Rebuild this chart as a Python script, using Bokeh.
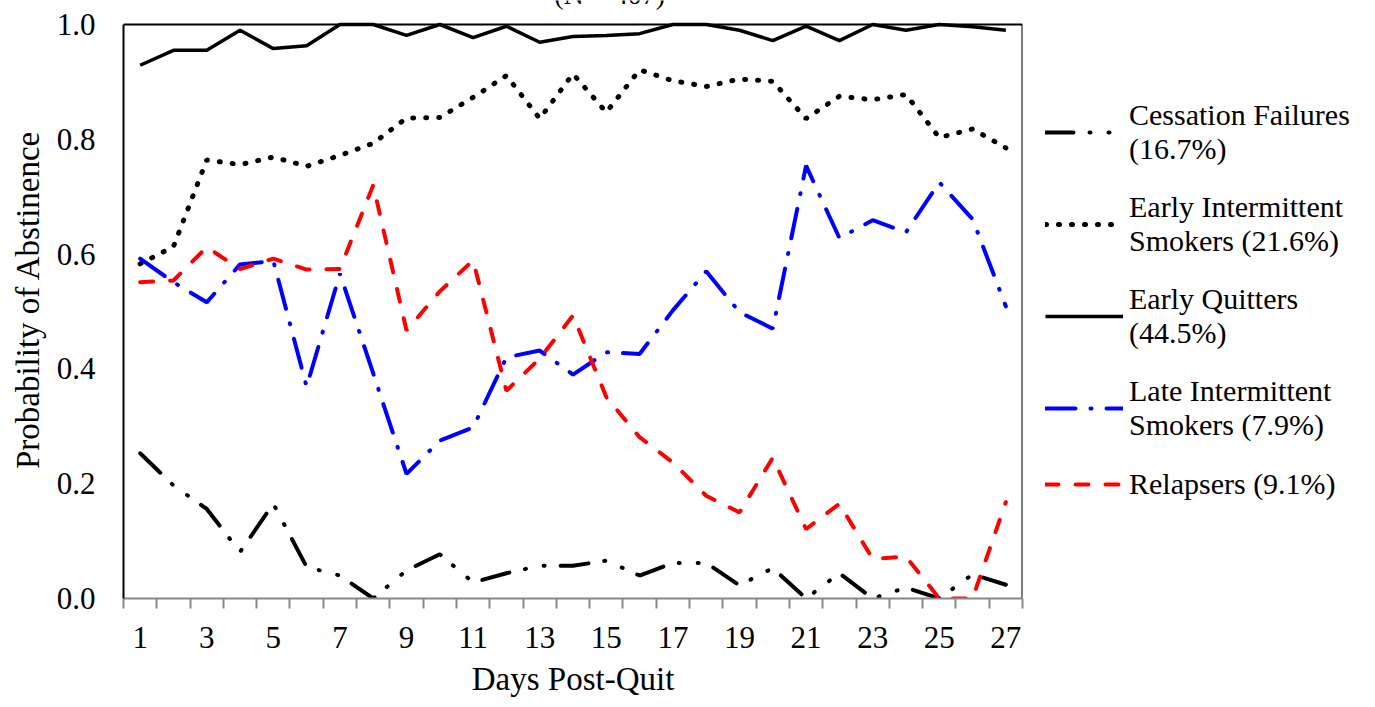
from bokeh.plotting import figure
from bokeh.layouts import row
from bokeh.models import Legend, LegendItem, Label, FixedTicker, Range1d, NumeralTickFormatter
from bokeh.embed import file_html
from bokeh.resources import INLINE

days = list(range(1, 28))
cessation_failures = [0.253, 0.197, 0.156, 0.081, 0.165, 0.055, 0.040, 0.0, 0.049, 0.077,
                      0.028, 0.044, 0.057, 0.057, 0.066, 0.040, 0.062, 0.062, 0.023, 0.053,
                      0.0, 0.044, 0.0, 0.019, 0.0, 0.042, 0.024]
early_intermittent = [0.583, 0.613, 0.764, 0.756, 0.769, 0.753, 0.772, 0.793, 0.837, 0.838,
                      0.873, 0.911, 0.836, 0.914, 0.847, 0.921, 0.902, 0.892, 0.905, 0.901,
                      0.836, 0.875, 0.869, 0.878, 0.803, 0.818, 0.785]
early_quitters = [0.929, 0.955, 0.955, 0.990, 0.958, 0.963, 1.0, 1.0, 0.981, 1.0,
                  0.977, 0.997, 0.969, 0.979, 0.981, 0.984, 1.0, 1.0, 0.990, 0.972,
                  0.997, 0.972, 1.0, 0.990, 1.0, 0.996, 0.990]
late_intermittent = [0.592, 0.551, 0.516, 0.582, 0.588, 0.369, 0.566, 0.392, 0.217, 0.275,
                     0.298, 0.420, 0.432, 0.390, 0.429, 0.426, 0.502, 0.570, 0.499, 0.470,
                     0.754, 0.628, 0.659, 0.638, 0.725, 0.661, 0.509]
relapsers = [0.551, 0.554, 0.612, 0.574, 0.592, 0.573, 0.574, 0.720, 0.467, 0.535,
             0.589, 0.362, 0.418, 0.493, 0.351, 0.281, 0.237, 0.179, 0.150, 0.245,
             0.121, 0.165, 0.069, 0.073, 0.0, 0.0, 0.168]

labels = ["Cessation Failures\n(16.7%)", "Early Intermittent\nSmokers (21.6%)",
          "Early Quitters\n(44.5%)", "Late Intermittent\nSmokers (7.9%)", "Relapsers (9.1%)"]
y_ticks = [0.0, 0.2, 0.4, 0.6, 0.8, 1.0]
title_text = "(N = 407)"

FONT = "Liberation Serif"

X0, X1 = days[0] - 0.5, days[-1] + 0.5
Y0, Y1 = y_ticks[0], y_ticks[-1]
TOP_PAD = 24 / 574  # space above the plot box (in data units) for the title

styles = [
    dict(line_color="black", line_width=4, line_dash="28 16 1 18 1 16", line_cap="round"),
    dict(line_color="black", line_width=5, line_dash="1 12", line_cap="round"),
    dict(line_color="black", line_width=3.5),
    dict(line_color="#0000FF", line_width=4, line_dash="30 15 1 15", line_cap="round"),
    dict(line_color="#FF0000", line_width=4, line_dash="13 17", line_cap="round"),
]
series = [cessation_failures, early_intermittent, early_quitters, late_intermittent, relapsers]

p = figure(width=1024, height=707, output_backend="svg", toolbar_location=None,
           x_range=Range1d(X0, X1), y_range=Range1d(Y0, Y1 + TOP_PAD),
           min_border_left=123, min_border_right=2, min_border_top=0, min_border_bottom=109)
p.grid.visible = False
p.outline_line_color = None
p.background_fill_color = "white"
p.border_fill_color = "white"

# x axis
xa = p.xaxis[0]
xa.ticker = FixedTicker(ticks=days[::2], minor_ticks=[d - 0.5 for d in days] + [X1])
xa.major_tick_line_color = None
xa.major_tick_out = 0
xa.major_tick_in = 0
xa.minor_tick_line_color = "#888888"
xa.minor_tick_line_width = 2
xa.minor_tick_out = 10
xa.minor_tick_in = 0
xa.axis_line_color = "#888888"
xa.axis_line_width = 2
xa.major_label_text_font = FONT
xa.major_label_text_font_size = "31px"
xa.major_label_text_color = "black"
xa.major_label_standoff = 18
xa.axis_label = "Days Post-Quit"
xa.axis_label_text_font = FONT
xa.axis_label_text_font_size = "33px"
xa.axis_label_text_font_style = "normal"
xa.axis_label_text_color = "black"
xa.axis_label_standoff = 10

# y axis
ya = p.yaxis[0]
ya.ticker = FixedTicker(ticks=y_ticks)
ya.formatter = NumeralTickFormatter(format="0.0")
ya.bounds = (Y0, Y1)
ya.major_tick_line_color = None
ya.minor_tick_line_color = None
ya.major_tick_out = 0
ya.major_tick_in = 0
ya.axis_line_color = "black"
ya.axis_line_width = 2
ya.major_label_text_font = FONT
ya.major_label_text_font_size = "31px"
ya.major_label_text_color = "black"
ya.major_label_standoff = 28
ya.axis_label = "Probability of Abstinence"
ya.axis_label_text_font = FONT
ya.axis_label_text_font_size = "33px"
ya.axis_label_text_font_style = "normal"
ya.axis_label_text_color = "black"
ya.axis_label_standoff = 8

# top and right sides of the plot box
p.segment(x0=[X0, X1], y0=[Y1, Y0], x1=[X1, X1], y1=[Y1, Y1], line_color="black", line_width=2)

for vals, st in zip(series, styles):
    p.line(days, vals, **st)

p.add_layout(Label(x=15.1, y=Y1 + 0.053, text=title_text, text_font=FONT,
                   text_font_size="28px", text_color="black", text_align="center",
                   text_baseline="alphabetic"))

# legend panel
q = figure(width=351, height=707, output_backend="svg", toolbar_location=None,
           min_border_left=0, min_border_right=0, min_border_bottom=109, min_border_top=0,
           x_range=Range1d(0, 1), y_range=Range1d(0, 1))
q.axis.visible = False
q.grid.visible = False
q.outline_line_color = None
q.background_fill_color = "white"
q.border_fill_color = "white"
nan = float("nan")
dummies = [q.line(x=[nan], y=[nan], **st) for st in styles]

legend = Legend(items=[LegendItem(label=lab, renderers=[r]) for lab, r in zip(labels, dummies)],
                location=(21, 96), orientation="vertical", padding=0, margin=0,
                spacing=24, glyph_width=78, glyph_height=36, label_standoff=6,
                label_text_font=FONT, label_text_font_size="30px",
                label_text_line_height=1.4, label_text_color="black",
                border_line_color=None, background_fill_alpha=0)
q.add_layout(legend)

open("out.html", "w").write(file_html(row(p, q), INLINE))
